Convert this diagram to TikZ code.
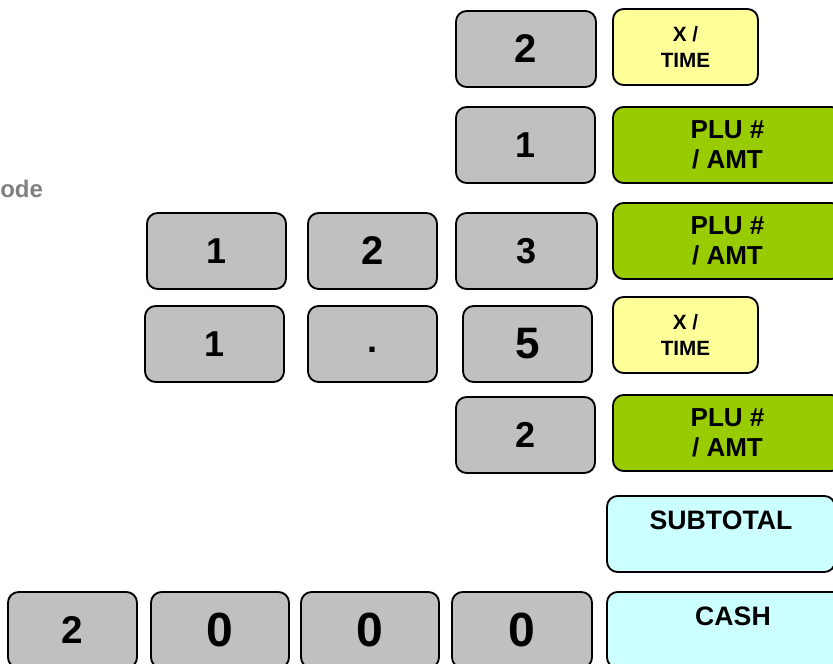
\documentclass[tikz,border=0pt]{standalone}
\usepackage{fontspec}
\setmainfont{Liberation Sans}
\definecolor{keygray}{HTML}{C0C0C0}
\definecolor{keyyellow}{HTML}{FFFF99}
\definecolor{keygreen}{HTML}{99CC00}
\definecolor{keycyan}{HTML}{CCFFFF}
\definecolor{notegray}{HTML}{808080}

\begin{document}
\begin{tikzpicture}[x=0.75pt, y=-0.75pt,
  key/.style={draw, line width=1.4pt, rounded corners=8pt, minimum height=57pt,
              inner sep=0pt, align=center},
  numkey/.style={key, fill=keygray, minimum width=104.25pt,
                 font=\fontsize{#1}{#1}\selectfont\bfseries},
  numkey/.default=27,
  xkey/.style={key, fill=keyyellow, minimum width=108.75pt,
               font=\fontsize{15.5}{19}\selectfont\bfseries},
  plukey/.style={key, fill=keygreen, minimum width=171.75pt,
                 font=\fontsize{19.5}{22.5}\selectfont\bfseries},
  totkey/.style={key, fill=keycyan, minimum width=171pt, text depth=20pt,
                 font=\fontsize{20}{20}\selectfont\bfseries},
  note/.style={anchor=base west, inner sep=0pt, text=notegray,
               font=\fontsize{18}{18}\selectfont\bfseries},
]
\useasboundingbox (0,0) rectangle (833,664);
\clip (0,0) rectangle (833,664);

\node[note] (mode) at (0,197) {ode};

\node[numkey=30, minimum width=105pt] (two-a) at (526,49) {2};
\node[xkey] (xtime-a) at (685.5,47) {X /\\TIME};

\node[numkey] (one-a) at (525.5,145) {1};
\node[plukey] (plu-a) at (727.5,145) {PLU \#\\/ AMT};

\node[numkey] (one-b) at (216.5,251) {1};
\node[numkey=30, minimum width=96.75pt] (two-b) at (372.5,251) {2};
\node[numkey, minimum width=105.75pt] (three) at (526.5,251) {3};
\node[plukey] (plu-b) at (727.5,241) {PLU \#\\/ AMT};

\node[numkey] (one-c) at (214.5,344) {1};
\node[numkey, minimum width=96.75pt, text height=12pt] (dot) at (372.5,344) {.};
\node[numkey=33, minimum width=96.75pt] (five) at (527.5,344) {5};
\node[xkey] (xtime-b) at (685.5,335) {X /\\TIME};

\node[numkey] (two-c) at (525.5,435) {2};
\node[plukey] (plu-c) at (727.5,433) {PLU \#\\/ AMT};

\node[totkey] (subtotal) at (721,534) {SUBTOTAL};

\node[numkey=29, minimum width=96.75pt] (two-d) at (72.5,630) {2};
\node[numkey=36, minimum width=103.5pt] (zero-a) at (220,630) {0};
\node[numkey=36, minimum width=103.5pt] (zero-b) at (370,630) {0};
\node[numkey=36, minimum width=105pt] (zero-c) at (522,630) {0};
\node[totkey, minimum width=189pt] (cash) at (733,630) {CASH};

\end{tikzpicture}
\end{document}
